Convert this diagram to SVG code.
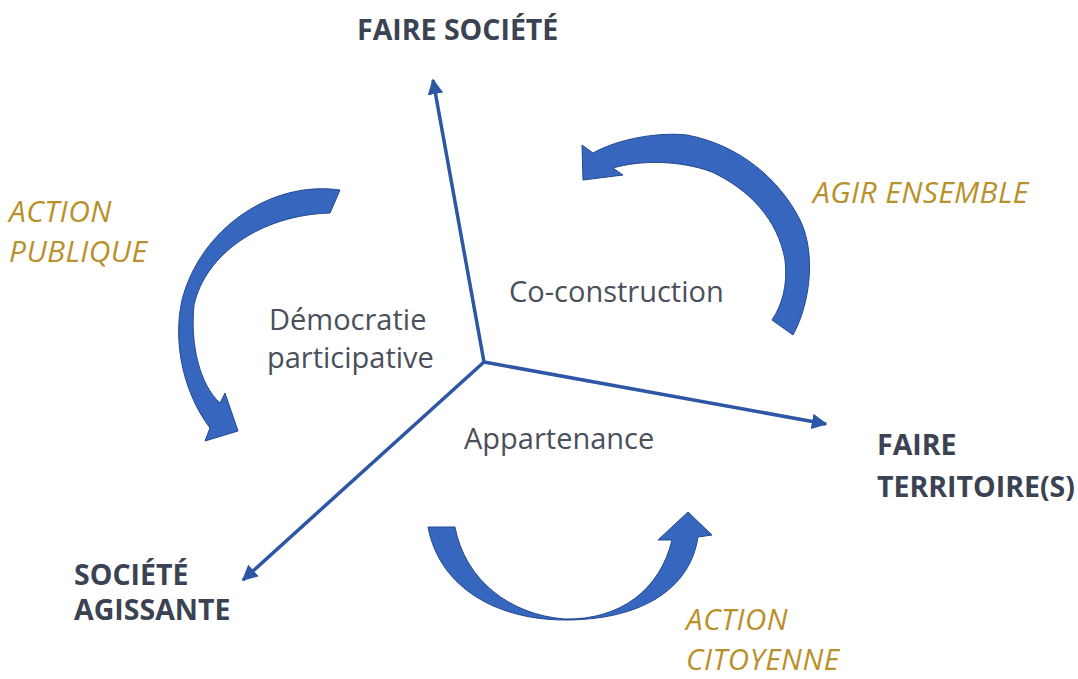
<svg xmlns="http://www.w3.org/2000/svg" width="1078" height="679" viewBox="0 0 1078 679">
<defs>
<style>
.bold{font-family:"Open Sans","Liberation Sans",sans-serif;font-weight:bold;font-size:28.5px;fill:#3b4252}
.gold{font-family:"Open Sans","Liberation Sans",sans-serif;font-style:italic;font-size:30px;letter-spacing:0.4px;fill:#b8912b}
.gold2{font-family:"Open Sans","Liberation Sans",sans-serif;font-style:italic;font-size:29.5px;letter-spacing:0.6px;fill:#b8912b}
.reg{font-family:"Open Sans","Liberation Sans",sans-serif;font-size:29px;fill:#4a4f5b}
.axis{stroke:#2d56a6;stroke-width:3.5;fill:none}
.cur{fill:#3666bd;stroke:#24498f;stroke-width:1;stroke-linejoin:round}
</style>
<marker id="ah" viewBox="0 0 10 10" refX="9" refY="5" markerWidth="4.5" markerHeight="4.5" orient="auto" markerUnits="strokeWidth">
<path d="M0,0 L10,5 L0,10 Z" fill="#2d56a6"/>
</marker>
</defs>
<rect width="1078" height="679" fill="#ffffff"/>
<g id="connectors">
<line class="axis" x1="484" y1="362" x2="433" y2="80" marker-end="url(#ah)"/>
<line class="axis" x1="484" y1="362" x2="826" y2="424" marker-end="url(#ah)"/>
<line class="axis" x1="484" y1="362" x2="243" y2="580" marker-end="url(#ah)"/>
</g>
<g id="arrow-action-publique">
<path class="cur" d="M340,190 C270,180 200,230 182,300 C172,345 185,395 210,428 L205,441 L238,431 L225,393 L220,403 C200,385 190,345 194,305 C205,255 260,215 330,213 Z"/>
</g>
<g id="arrow-agir-ensemble">
<path class="cur" d="M793,335 C812,300 815,250 800,220 C780,180 740,145 687,135 C660,132 620,138 593,153 L582,145 L583,180 L623,175 L613,168 C640,160 680,160 712,172 C750,190 778,220 785,260 C788,285 782,305 772,320 Z"/>
</g>
<g id="arrow-action-citoyenne">
<path class="cur" d="M428,527 L455,527 C465,580 510,615 565,619 C620,620 660,590 672,540 L658,540 L688,512 L712,535 L698,537 C690,590 640,620 565,620 C500,620 440,590 428,527 Z"/>
</g>
<g id="node-faire-societe"><text class="bold" x="357" y="40">FAIRE SOCIÉTÉ</text></g>
<g id="node-faire-territoire"><text class="bold" x="877" y="455">FAIRE</text><text class="bold" x="877" y="497">TERRITOIRE(S)</text></g>
<g id="node-societe-agissante"><text class="bold" x="74" y="585">SOCIÉTÉ</text><text class="bold" x="74" y="620">AGISSANTE</text></g>
<g id="label-action-publique"><text class="gold" x="9" y="222">ACTION</text><text class="gold" x="9" y="262">PUBLIQUE</text></g>
<g id="label-agir-ensemble"><text class="gold" x="813" y="203">AGIR ENSEMBLE</text></g>
<g id="label-action-citoyenne"><text class="gold2" x="686" y="630">ACTION</text><text class="gold2" x="686" y="670">CITOYENNE</text></g>
<g id="label-co-construction"><text class="reg" x="509" y="302">Co-construction</text></g>
<g id="label-democratie"><text class="reg" x="269" y="330">Démocratie</text><text class="reg" x="267" y="368">participative</text></g>
<g id="label-appartenance"><text class="reg" x="464" y="449">Appartenance</text></g>
</svg>
